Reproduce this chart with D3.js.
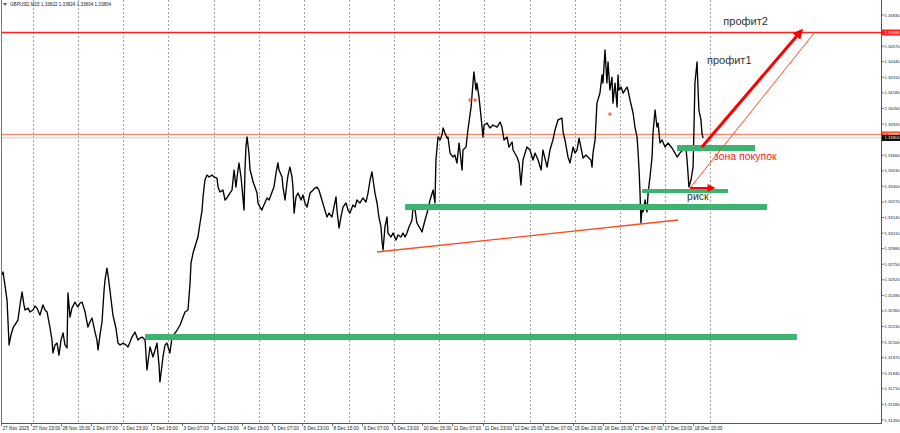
<!DOCTYPE html>
<html><head><meta charset="utf-8">
<script src="https://cdn.jsdelivr.net/npm/d3@7"></script>
<style>body{margin:0;background:#fff}svg{display:block}text{font-family:"Liberation Sans",Arial,sans-serif}</style>
</head><body><svg id="c" width="900" height="433"></svg>
<script>
// time = trading hours since 27 Nov 2025 07:00 (broker time), M15 chart GBPUSD
const hours = [
0.5,1.1,2.1,3.2,4.3,5.3,6.4,7.4,9.0,10.1,
11.2,12.2,12.8,14.4,15.4,17.0,18.1,19.1,20.7,22.3,
23.4,24.5,26.0,27.1,27.6,28.7,29.8,30.8,31.9,33.0,
34.0,35.1,35.6,36.7,37.7,39.3,40.9,42.0,43.1,44.7,
46.2,47.3,48.4,50.0,51.0,51.6,52.6,53.7,54.8,55.3,
56.3,56.9,57.9,59.5,61.1,62.2,63.3,64.9,66.5,67.5,
68.6,69.6,71.2,72.8,73.9,75.0,76.6,77.6,79.2,80.8,
81.9,82.9,84.0,84.5,85.6,86.1,87.2,88.2,89.8,90.9,
92.5,93.6,95.2,96.2,97.8,99.4,100.5,101.0,102.1,103.7,
104.7,105.8,106.9,107.4,108.4,109.5,110.6,112.2,113.2,114.8,
115.4,116.4,118.0,119.1,120.1,121.7,122.8,123.9,124.9,125.5,
126.5,127.6,128.1,129.2,129.7,130.2,130.8,131.8,132.4,133.4,
134.0,135.0,136.1,136.6,137.7,138.7,139.3,141.4,142.5,144.1,
145.1,146.2,147.2,147.8,149.4,149.9,151.0,152.0,152.6,153.6,
154.7,155.2,155.8,156.8,157.9,159.5,160.5,161.6,162.7,164.3,
165.9,166.9,168.0,169.0,170.6,171.7,173.3,174.4,175.9,177.0,
178.1,178.6,179.7,180.7,181.8,183.4,184.5,185.5,187.1,188.2,
189.2,190.8,192.4,194.0,195.1,196.2,197.2,197.8,198.8,199.9,
200.9,202.0,202.5,203.1,204.1,205.2,205.7,207.3,208.4,210.0,
211.0,212.6,213.7,214.8,215.8,216.9,218.5,219.0,220.1,221.1,
222.7,223.8,225.4,226.5,228.1,229.7,230.7,231.2,232.3,233.4,
234.4,235.0,236.0,237.1,237.6,238.7,240.3,241.3,242.4,243.5,
245.1,245.6,247.2,248.2,249.9,250.9,251.4,252.5,253.0,254.1,
255.2,256.2,256.8,258.4,259.9,261.5,263.7,265.3,266.3,267.4,
269.0,270.0,271.7,272.2,274.3,275.4,276.4,277.5,278.6,279.6,
281.2,282.8,283.9,285.5,287.1,288.1,290.3,291.8,293.4,294.5,
296.1,298.2,298.8,299.8,301.4,302.5,304.1,305.1,306.2,307.3,
308.9,309.4,311.0,312.0,313.6,314.2,314.7,315.8,316.8,318.4,
319.5,320.0,321.1,322.1,322.7,323.7,324.8,325.3,326.4,327.5,
328.0,328.5,329.6,330.7,332.8,333.3,334.4,336.0,337.0,338.1,
338.6,339.2,339.7,340.2,340.8,341.3,342.4,343.4,344.0,345.0,
346.1,346.6,347.7,348.7,349.3,350.3,351.4,353.0,354.6,356.7,
358.3,359.4,360.9,362.5,364.1,364.7,365.2,365.7,366.8,367.9,
368.4,368.9,370.0,370.5,371.0,372.1,372.6,373.2];
const closes = [
1.32660,1.32685,1.32576,1.32451,1.32076,1.32159,1.32218,1.32243,1.32284,1.32410,
1.32518,1.32410,1.32368,1.32384,1.32351,1.32368,1.32401,1.32384,1.32326,1.32410,
1.32368,1.32351,1.32226,1.32117,1.32009,1.32076,1.32092,1.31992,1.32117,1.32176,
1.32076,1.32051,1.32510,1.32309,1.32384,1.32434,1.32393,1.32426,1.32434,1.32351,
1.32226,1.32268,1.32301,1.32184,1.32117,1.32034,1.32159,1.32268,1.32535,1.32618,
1.32718,1.32660,1.32535,1.32326,1.32218,1.32092,1.32076,1.32092,1.32076,1.32059,
1.32101,1.32142,1.32184,1.32117,1.32134,1.32142,1.32117,1.31867,1.32059,1.31976,
1.32034,1.32092,1.31909,1.31767,1.31909,1.31976,1.32076,1.32092,1.32009,1.32142,
1.32176,1.32201,1.32243,1.32284,1.32351,1.32368,1.32593,1.32760,1.32844,1.32927,
1.32977,1.33094,1.33202,1.33311,1.33453,1.33494,1.33478,1.33494,1.33478,1.33469,
1.33394,1.33353,1.33369,1.33286,1.33303,1.33344,1.33369,1.33536,1.33394,1.33478,
1.33595,1.33478,1.33394,1.33202,1.33536,1.33728,1.33812,1.33678,1.33536,1.33478,
1.33436,1.33394,1.33344,1.33261,1.33227,1.33202,1.33227,1.33303,1.33286,1.33353,
1.33394,1.33511,1.33595,1.33536,1.33478,1.33394,1.33286,1.33428,1.33494,1.33561,
1.33478,1.33394,1.33177,1.33311,1.33344,1.33286,1.33328,1.33261,1.33227,1.33344,
1.33369,1.33386,1.33394,1.33369,1.33286,1.33227,1.33144,1.33177,1.33144,1.33227,
1.33311,1.33202,1.33052,1.33144,1.33227,1.33261,1.33202,1.33177,1.33244,1.33227,
1.33286,1.33261,1.33303,1.33269,1.33344,1.33453,1.33520,1.33453,1.33344,1.33261,
1.33144,1.33061,1.32952,1.32869,1.33061,1.33144,1.33010,1.32977,1.33010,1.32952,
1.32994,1.32977,1.33010,1.32977,1.33010,1.33061,1.33119,1.33227,1.33202,1.33094,
1.33052,1.33019,1.33119,1.33177,1.33286,1.33369,1.33261,1.33620,1.33812,1.33787,
1.33828,1.33887,1.33845,1.33803,1.33812,1.33678,1.33645,1.33661,1.33595,1.33762,
1.33536,1.33703,1.33728,1.33870,1.34062,1.34262,1.34354,1.34204,1.34262,1.34145,
1.33979,1.33812,1.33912,1.33928,1.33887,1.33912,1.33895,1.33937,1.33895,1.33787,
1.33812,1.33728,1.33770,1.33703,1.33645,1.33595,1.33411,1.33620,1.33678,1.33728,
1.33703,1.33620,1.33678,1.33620,1.33536,1.33703,1.33561,1.33703,1.33787,1.33870,
1.33954,1.33970,1.33853,1.33787,1.33645,1.33595,1.33728,1.33678,1.33703,1.33803,
1.33678,1.33636,1.33661,1.33645,1.33620,1.33561,1.33678,1.33787,1.34095,1.34179,
1.34329,1.34262,1.34538,1.34262,1.34438,1.34204,1.34312,1.34095,1.34262,1.34062,
1.34329,1.34204,1.34229,1.34179,1.34229,1.34204,1.34120,1.34012,1.33895,1.33812,
1.33703,1.33536,1.33344,1.33094,1.33227,1.33186,1.33286,1.33186,1.33344,1.33478,
1.33645,1.33845,1.34037,1.33895,1.33928,1.33762,1.33787,1.33728,1.33762,1.33720,
1.33678,1.33645,1.33678,1.33703,1.33720,1.33620,1.33511,1.33394,1.33453,1.33561,
1.33895,1.34262,1.34438,1.34229,1.34037,1.33954,1.33845,1.33804];

const xTickLabels = ["27 Nov 2025","27 Nov 23:00","28 Nov 15:00","1 Dec 07:00","1 Dec 23:00","2 Dec 15:00","3 Dec 07:00","3 Dec 23:00","4 Dec 15:00","5 Dec 07:00","5 Dec 23:00","8 Dec 15:00","9 Dec 07:00","9 Dec 23:00","10 Dec 15:00","11 Dec 07:00","11 Dec 23:00","12 Dec 15:00","15 Dec 07:00","15 Dec 23:00","16 Dec 15:00","17 Dec 07:00","17 Dec 23:00","18 Dec 15:00"];
const xTickHours = [0,16,32,48,64,80,96,112,128,144,160,176,192,208,224,240,256,272,288,304,320,336,352,368];
const daySeparators = [17,41,65,89,113,137,161,185,209,233,257,281,305,329,353,377];
const yTicks = [1.34830,1.34570,1.34440,1.34310,1.34180,1.34050,1.33920,1.33660,1.33530,1.33400,1.33270,1.33140,1.33010,1.32880,1.32750,1.32620,1.32490,1.32360,1.32230,1.32100,1.31970,1.31840,1.31710,1.31580,1.31450];
const title = "GBPUSD,M15  1.33822 1.33824 1.33804 1.33804";

// drawn objects
const profitLevel = 1.34684, askLevel = 1.33834, bidLevel = 1.33804;
const zones = [ // [startHour, endHour, price, thickness class]
  [76.6, 423.1, 1.32142, "wide"],
  [214.8, 407.2, 1.33227, "wide"],
  [340.8, 386.5, 1.33361, "thin"],
  [359.4, 400.8, 1.33720, "wide"]
];
const trendLine = [[199.9, 1.32852],[359.9, 1.33119]];
const targetArrow = [[372.6, 1.33728],[425.3, 1.34696]];
const thinDiag = [[366.3, 1.33386],[432.7, 1.34688]];
const riskArrow = [[366.3, 1.33386],[378.5, 1.33386]];
const annotations = [
  {text:"профит2", h:384.0, p:1.34746, color:"#333", size:11},
  {text:"профит1", h:375.3, p:1.34421, color:"#333", size:11},
  {text:"зона покупок", h:379.0, p:1.33620, color:"#ff1a1a", size:10.5},
  {text:"риск", h:364.7, p:1.33289, color:"#333", size:10.5}
];
const markers = [[249.3,1.34120],[252.0,1.34120],[323.7,1.34003]];

const svg = d3.select('#c');
svg.append('rect').attr('width',900).attr('height',433).attr('fill','#fff');
const x = d3.scaleLinear().domain([0, 467.8]).range([1, 881]);
const y = d3.scaleLinear().domain([1.31450, 1.34830]).range([420, 15]);

const defs = svg.append('defs');
defs.append('marker').attr('id','ah').attr('viewBox','0 0 10 10').attr('refX',7).attr('refY',5)
  .attr('markerWidth',3.4).attr('markerHeight',3.4).attr('orient','auto')
  .append('path').attr('d','M0,0 L10,5 L0,10 z').attr('fill','#ff0000');
defs.append('marker').attr('id','ah2').attr('viewBox','0 0 10 10').attr('refX',7).attr('refY',5)
  .attr('markerWidth',4).attr('markerHeight',4).attr('orient','auto')
  .append('path').attr('d','M0,0 L10,5 L0,10 z').attr('fill','#ff0000');

// day separators
svg.append('g').selectAll('line').data(daySeparators).join('line')
  .attr('x1',d=>Math.round(x(d))+0.5).attr('x2',d=>Math.round(x(d))+0.5)
  .attr('y1',0).attr('y2',423)
  .attr('stroke','#8a8a8a').attr('stroke-width',0.8).attr('stroke-dasharray','2,2');

// bid / ask / profit lines
const hl = (p,c,w)=>svg.append('line').attr('x1',1).attr('x2',881).attr('y1',y(p)).attr('y2',y(p)).attr('stroke',c).attr('stroke-width',w);
hl(bidLevel,'#c8c8d0',1);
hl(askLevel,'#ff6a45',1);
hl(profitLevel,'#ff2020',1.6);

// price line
const line = d3.line().x(d=>x(d[0])).y(d=>y(d[1]));
svg.append('path').datum(hours.map((h,i)=>[h,closes[i]]))
  .attr('d',line).attr('fill','none').attr('stroke','#000').attr('stroke-width',1.35).attr('stroke-linejoin','round');

// markers
svg.append('g').selectAll('rect').data(markers).join('rect')
  .attr('x',d=>x(d[0])-1.5).attr('y',d=>y(d[1])-1.5).attr('width',3).attr('height',3)
  .attr('fill','#ff6a45');

// zones
svg.append('g').selectAll('line').data(zones).join('line')
  .attr('x1',d=>x(d[0])).attr('x2',d=>x(d[1])).attr('y1',d=>y(d[2])).attr('y2',d=>y(d[2]))
  .attr('stroke','#3cb371').attr('stroke-width',d=>d[3]==='wide'?6:4);

// trend lines and arrows
svg.append('path').datum(trendLine).attr('d',line).attr('stroke','#ff4a1a').attr('stroke-width',1.4).attr('fill','none');
svg.append('path').datum(thinDiag).attr('d',line).attr('stroke','#ff4a1a').attr('stroke-width',1).attr('fill','none');
svg.append('path').datum(targetArrow).attr('d',line).attr('stroke','#ff0000').attr('stroke-width',3).attr('fill','none').attr('marker-end','url(#ah)');
svg.append('path').datum(riskArrow).attr('d',line).attr('stroke','#ff0000').attr('stroke-width',2).attr('fill','none').attr('marker-end','url(#ah2)');

// annotations
svg.append('g').selectAll('text').data(annotations).join('text')
  .attr('x',d=>x(d.h)).attr('y',d=>y(d.p)).attr('fill',d=>d.color).attr('font-size',d=>d.size)
  .text(d=>d.text);

// frame
svg.append('line').attr('x1',1.5).attr('x2',1.5).attr('y1',0).attr('y2',423).attr('stroke','#777');
svg.append('line').attr('x1',881.5).attr('x2',881.5).attr('y1',0).attr('y2',423.5).attr('stroke','#555');
svg.append('line').attr('x1',1).attr('x2',882).attr('y1',423.5).attr('y2',423.5).attr('stroke','#555');

// x axis
const xg = svg.append('g');
xTickHours.forEach((h,i)=>{
  const px = Math.round(x(h))+0.5;
  xg.append('line').attr('x1',px).attr('x2',px).attr('y1',423).attr('y2',426).attr('stroke','#555').attr('stroke-width',0.8);
  xg.append('text').attr('x',px+1).attr('y',429.5).attr('font-size',4.7).attr('fill','#222').text(xTickLabels[i]);
});

// y axis
const yg = svg.append('g');
yTicks.forEach(v=>{
  const py = y(v);
  yg.append('line').attr('x1',881).attr('x2',884).attr('y1',py).attr('y2',py).attr('stroke','#555').attr('stroke-width',0.8);
  yg.append('text').attr('x',884.5).attr('y',py+1.5).attr('font-size',4.2).attr('fill','#222').text(v.toFixed(5));
});
const priceTag = (p,bg)=>{
  const py = y(p);
  yg.append('rect').attr('x',882).attr('y',py-3).attr('width',18).attr('height',6).attr('fill',bg);
  yg.append('text').attr('x',884.5).attr('y',py+1.5).attr('font-size',4.2).attr('fill','#fff').text(p.toFixed(5));
};
priceTag(profitLevel,'#ff2020');
priceTag(askLevel,'#ff5a30');
priceTag(bidLevel,'#000');

// title
svg.append('path').attr('d','M3,3 L7,3 L5,6 z').attr('fill','#555');
svg.append('text').attr('x',10).attr('y',6.3).attr('font-size',4.6).attr('fill','#222').text(title);
</script></body></html>
